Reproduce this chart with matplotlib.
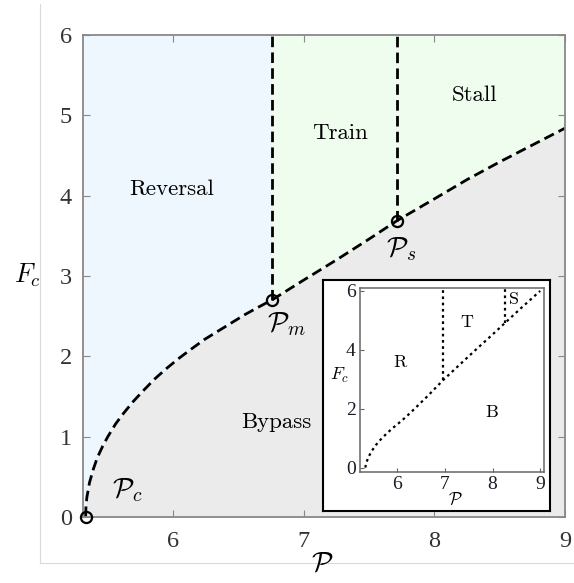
import numpy as np
import matplotlib
matplotlib.use("Agg")
import matplotlib.pyplot as plt
from matplotlib.lines import Line2D

plt.rcParams['mathtext.fontset'] = 'cm'
plt.rcParams['axes.unicode_minus'] = False

# boundary curve (main panel)
P_curve = [5.33, 5.333, 5.34, 5.36, 5.39, 5.42, 5.46, 5.50, 5.56, 5.62, 5.69, 5.77,
           5.86, 5.95, 6.04, 6.13, 6.24, 6.35, 6.45, 6.55, 6.65, 6.755,
           7.0, 7.25, 7.5, 7.715, 8.0, 8.25, 8.5, 8.75, 9.0]
F_curve = [0.0, 0.14, 0.25, 0.43, 0.60, 0.74, 0.88, 1.0, 1.16, 1.29, 1.43, 1.57,
           1.72, 1.85, 1.97, 2.08, 2.21, 2.32, 2.42, 2.52, 2.61, 2.70,
           2.95, 3.20, 3.46, 3.69, 3.96, 4.20, 4.42, 4.63, 4.84]

# special points
P_c, F_c0 = 5.33, 0.0
P_m, F_m = 6.755, 2.70
P_s, F_s = 7.715, 3.69

# inset data
P_in = [5.33, 5.36, 5.40, 5.46, 5.55, 5.64, 5.78, 5.92, 6.10, 6.27, 6.62,
        6.97, 7.3, 7.6, 8.0, 8.26, 8.6, 9.0]
F_in = [0.0, 0.2, 0.36, 0.55, 0.76, 0.93, 1.16, 1.36, 1.60, 1.85, 2.40,
        2.98, 3.48, 3.93, 4.52, 4.91, 5.42, 6.0]
P_in_m, F_in_m = 6.97, 2.98
P_in_s, F_in_s = 8.26, 4.91

XMIN, XMAX = 5.31, 9.0
blue = '#eef6fe'
green = '#eefdee'
gray = '#ebebeb'
serif_txt = 'cmr10'

fig = plt.figure(figsize=(5.74, 5.83), dpi=100)

# faint frame lines from the original screenshot
fig.add_artist(Line2D([40/574, 40/574], [1 - 4/583, 1 - 563/583], color='#dadada', lw=0.8,
                      transform=fig.transFigure))
fig.add_artist(Line2D([40/574, 1.0], [1 - 563/583, 1 - 563/583], color='#dadada', lw=0.8,
                      transform=fig.transFigure))

ax = fig.add_axes([83/574, 1 - 517/583, 482/574, 482/583])

x = np.array([XMIN] + P_curve)
y = np.array([0.0] + F_curve)
left = x <= P_m
right = x >= P_m
ax.fill_between(x, 0, y, color=gray, lw=0)
ax.fill_between(x[left], y[left], 6, color=blue, lw=0)
ax.fill_between(x[right], y[right], 6, color=green, lw=0)

dash = dict(color='black', lw=2.0, dashes=(3.8, 1.9))
ax.plot(P_curve, F_curve, **dash)
ax.plot([P_m, P_m], [F_m, 6], **dash)
ax.plot([P_s, P_s], [F_s, 6], **dash)
ax.plot([P_c, P_m, P_s], [F_c0, F_m, F_s], 'o', ms=8, mfc='none', mec='black', mew=1.6,
        clip_on=False, zorder=5)

ax.set_xlim(XMIN, XMAX)
ax.set_ylim(0, 6)
ax.set_xticks([6, 7, 8, 9])
ax.set_yticks([0, 1, 2, 3, 4, 5, 6])
ax.tick_params(direction='in', length=5, color='#888888', top=True, right=True,
               labelsize=17.5, labelcolor='#333333')
ax.tick_params(axis='x', pad=10)
ax.tick_params(axis='y', pad=8)
for lab in ax.get_xticklabels() + ax.get_yticklabels():
    lab.set_fontfamily('Liberation Serif')
for s in ax.spines.values():
    s.set_color('#888888')
    s.set_linewidth(1.3)

ax.text(5.99, 4.08, 'Reversal', fontfamily=serif_txt, fontsize=16.5, ha='center', va='center')
ax.text(7.28, 4.78, 'Train', fontfamily=serif_txt, fontsize=16.5, ha='center', va='center')
ax.text(8.31, 5.25, 'Stall', fontfamily=serif_txt, fontsize=16.5, ha='center', va='center')
ax.text(6.79, 1.18, 'Bypass', fontfamily=serif_txt, fontsize=16.5, ha='center', va='center')
ax.text(5.65, 0.34, r'$\mathcal{P}_c$', fontsize=20, ha='center', va='center')
ax.text(6.87, 2.40, r'$\mathcal{P}_m$', fontsize=20, ha='center', va='center')
ax.text(7.75, 3.33, r'$\mathcal{P}_s$', fontsize=20, ha='center', va='center')

fig.text(27/574, 1 - 275/583, r'$F_c$', fontsize=19, ha='center', va='center')
fig.text(322/574, 1 - 563/583, r'$\mathcal{P}$', fontsize=20, ha='center', va='center')

# inset frame
box = fig.add_axes([323/574, 1 - 511/583, 227/574, 231/583])
box.set_xticks([])
box.set_yticks([])
box.set_facecolor('white')
for s in box.spines.values():
    s.set_color('black')
    s.set_linewidth(1.5)

ins = fig.add_axes([360/574, 1 - 472/583, 184/574, 184/583])
dot = dict(color='black', lw=1.6, ls=(0, (1.2, 1.6)))
ins.plot(P_in, F_in, **dot)
ins.plot([P_in_m, P_in_m], [F_in_m, 6.1], **dot)
ins.plot([P_in_s, P_in_s], [F_in_s, 6.1], **dot)
ins.set_xlim(5.22, 9.08)
ins.set_ylim(-0.15, 6.1)
ins.set_xticks([6, 7, 8, 9])
ins.set_yticks([0, 2, 4, 6])
ins.tick_params(direction='in', length=3, color='#666666', labelsize=14,
                labelcolor='#1a1a28', pad=3)
for lab in ins.get_xticklabels() + ins.get_yticklabels():
    lab.set_fontfamily('Liberation Serif')
for s in ins.spines.values():
    s.set_color('#666666')
    s.set_linewidth(1.1)
ins.text(6.06, 3.56, 'R', fontfamily=serif_txt, fontsize=13, ha='center', va='center')
ins.text(7.47, 4.95, 'T', fontfamily=serif_txt, fontsize=13, ha='center', va='center')
ins.text(8.45, 5.70, 'S', fontfamily=serif_txt, fontsize=13, ha='center', va='center')
ins.text(7.99, 1.86, 'B', fontfamily=serif_txt, fontsize=13, ha='center', va='center')
fig.text(340/574, 1 - 375/583, r'$F_c$', fontsize=13, ha='center', va='center')
fig.text(455/574, 1 - 500/583, r'$\mathcal{P}$', fontsize=12.5, ha='center', va='center')

fig.savefig('out.png', dpi=100)
